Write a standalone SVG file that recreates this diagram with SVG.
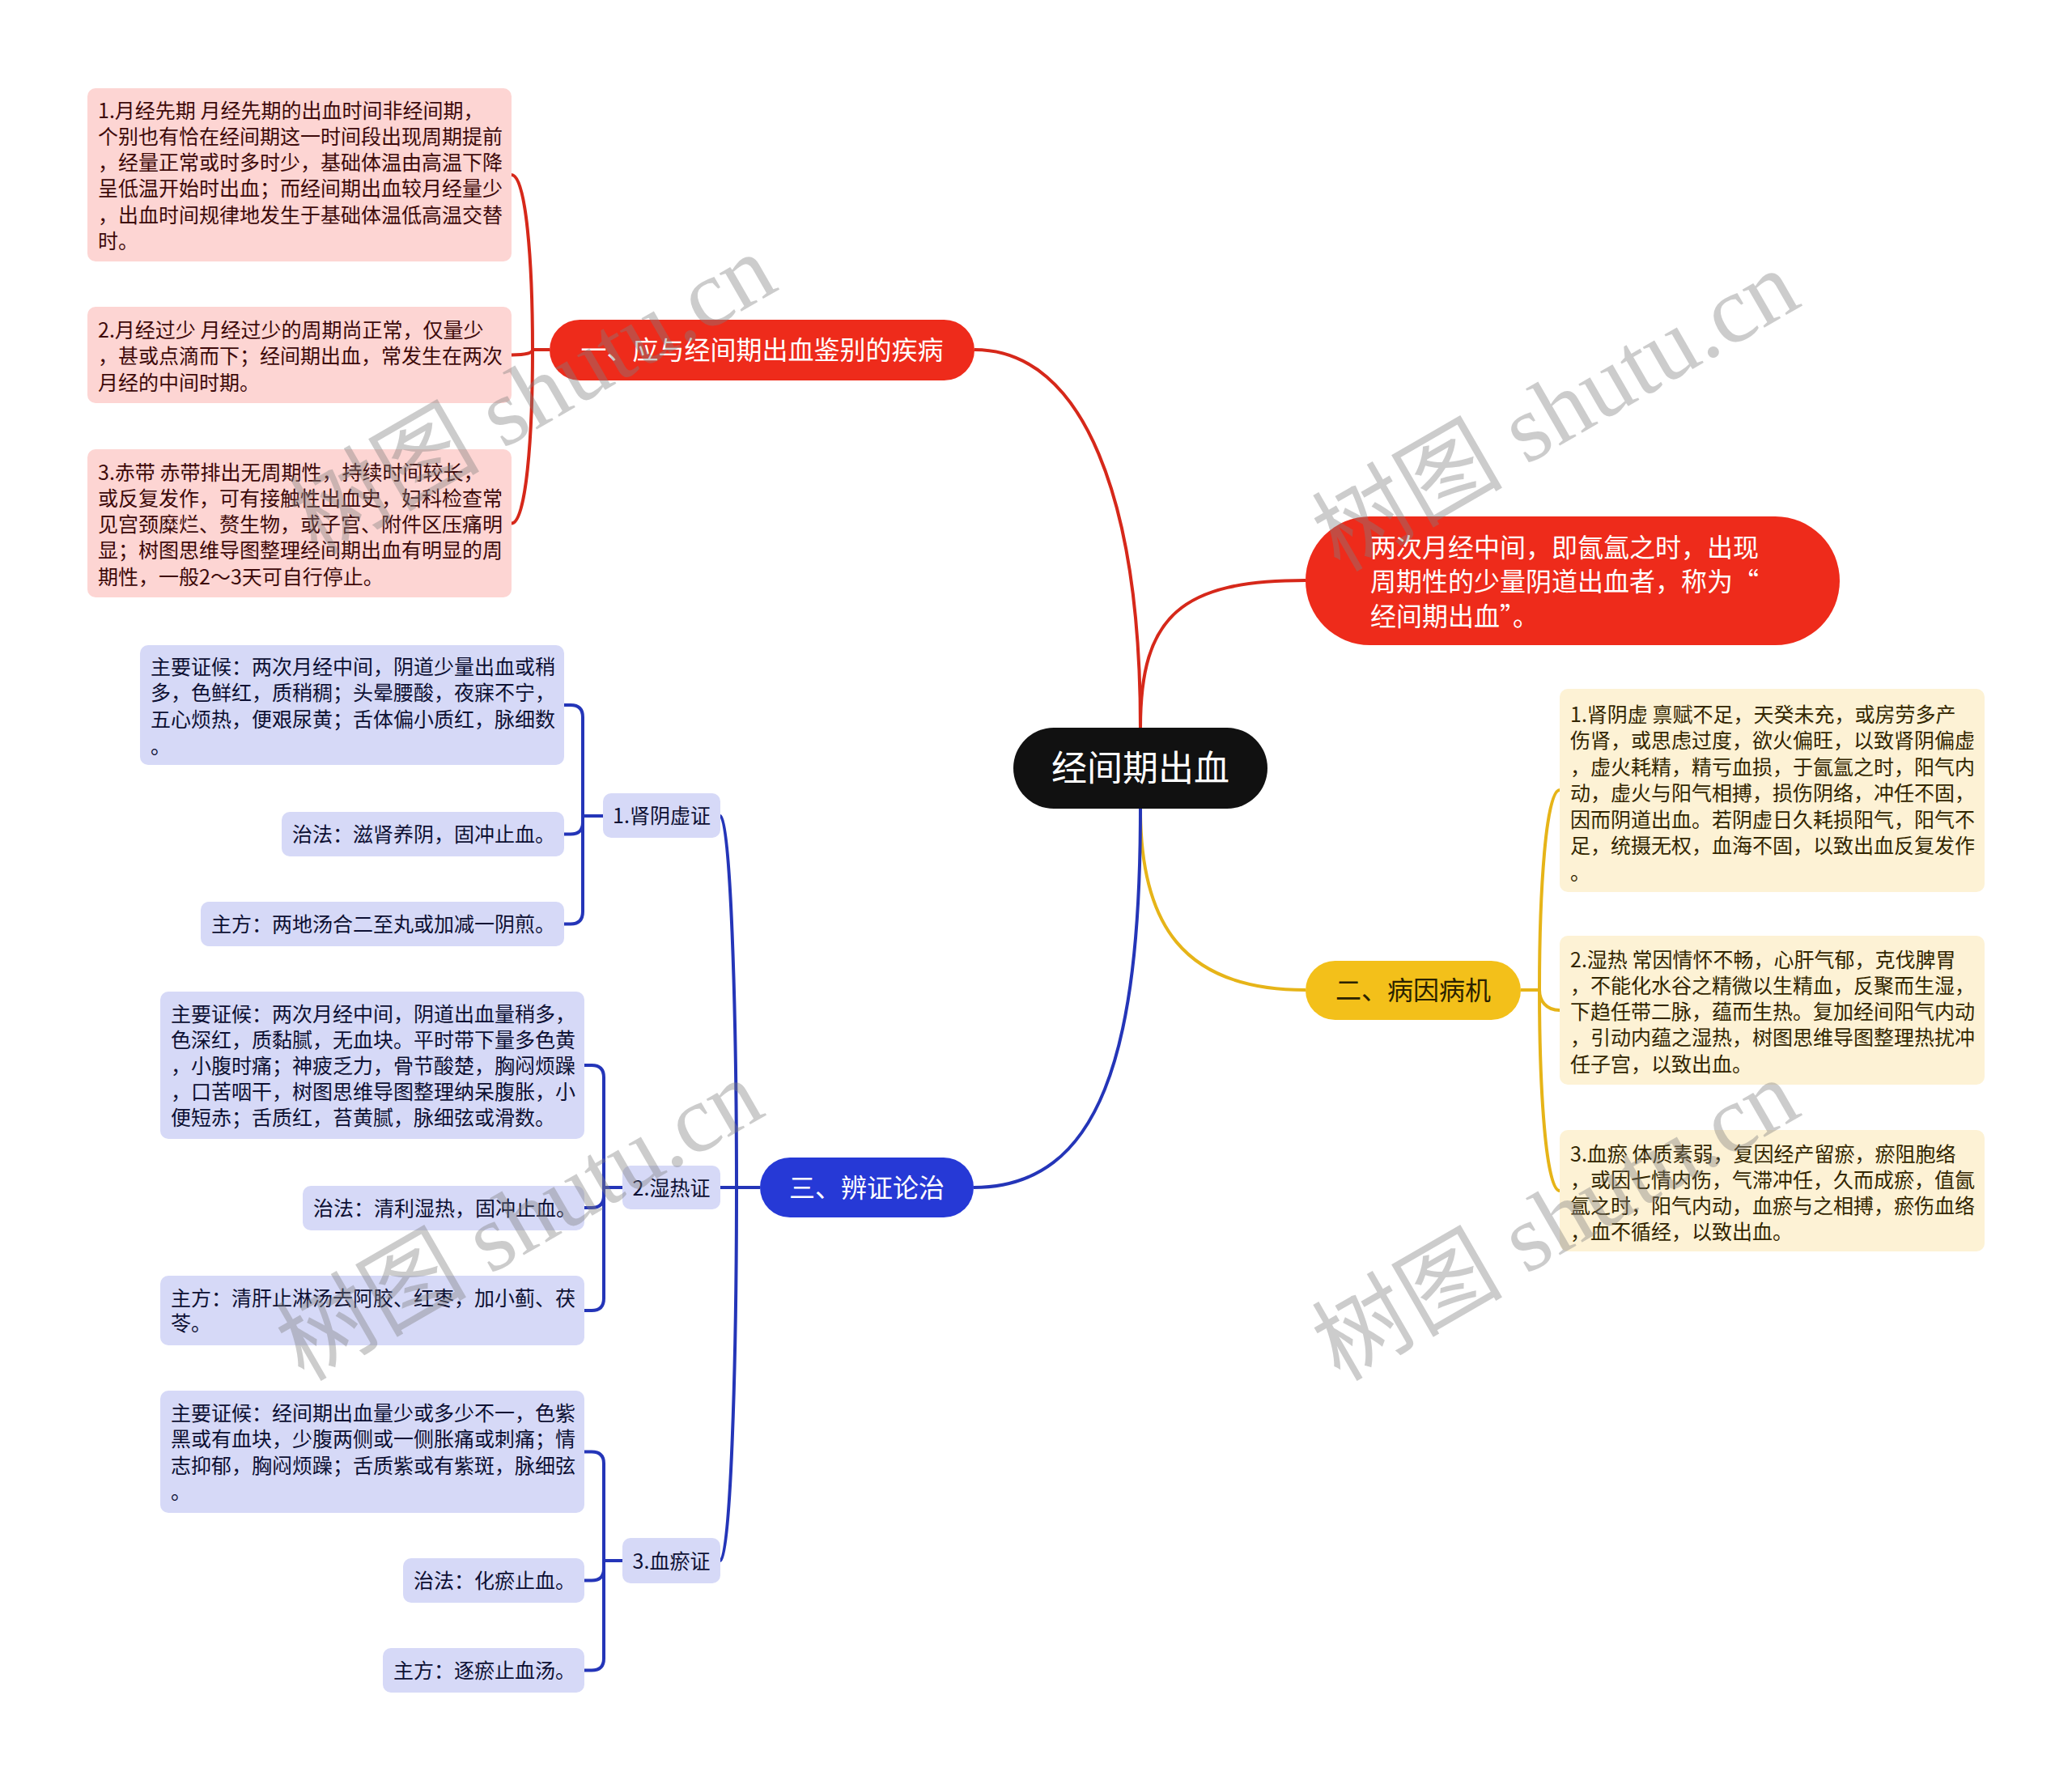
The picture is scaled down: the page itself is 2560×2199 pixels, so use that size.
<svg xmlns="http://www.w3.org/2000/svg" width="2560" height="2199" viewBox="0 0 2560 2199">
<style>
text{font-family:"Noto Sans CJK SC","Liberation Sans",sans-serif}
.s{font-size:25px}
.m{font-size:32px}
.pink rect{fill:#fdd5d3}
.pink text{fill:#3d0a0a}
.yel rect{fill:#fdf2d5}
.yel text{fill:#332600}
.blu rect{fill:#d6d9f7}
.blu text{fill:#0d1033}
.cr{fill:none;stroke:#d6281a;stroke-width:4}
.cy{fill:none;stroke:#e6b418;stroke-width:4}
.cb{fill:none;stroke:#2435b8;stroke-width:4}
.wm{font-family:"Liberation Serif","Noto Sans CJK SC",serif;font-size:118px;fill:#7f7f7f;fill-opacity:0.4}
</style>
<rect width="2560" height="2199" fill="#ffffff"/>
<g id="connectors">
<path class="cr" d="M1409 899 C1409 620 1340 432 1204 432"/>
<path class="cr" d="M1409 899 C1409 760 1460 717 1613 717"/>
<path class="cy" d="M1409 999 C1409 1140 1460 1223 1613 1223"/>
<path class="cb" d="M1409 999 C1409 1300 1360 1467 1203 1467"/>
<path class="cr" d="M679 432 H658 C658 324 650 216 632 216"/>
<path class="cr" d="M679 432 H658 C658 436 650 438.5 632 438.5"/>
<path class="cr" d="M679 432 H658 C658 540 650 646.5 632 646.5"/>
<path class="cy" d="M1879 1223 H1902 C1902 1100 1910 976 1927 976"/>
<path class="cy" d="M1879 1223 H1902 C1902 1236 1910 1248 1927 1248"/>
<path class="cy" d="M1879 1223 H1902 C1902 1347 1910 1471 1927 1471"/>
<path class="cb" d="M939 1467 H910 C910 1237 902 1008 890 1008"/>
<path class="cb" d="M939 1467 H890"/>
<path class="cb" d="M939 1467 H910 C910 1697 902 1928 890 1928"/>
<path class="cb" d="M745 1008 H720 V886 Q720 871 705 871 H697"/>
<path class="cb" d="M745 1008 H720 V1016 Q720 1030.5 705 1030.5 H697"/>
<path class="cb" d="M745 1008 H720 V1126 Q720 1141.5 705 1141.5 H697"/>
<path class="cb" d="M769 1467 H746 V1331 Q746 1316 731 1316 H722"/>
<path class="cb" d="M769 1467 H746 V1477 Q746 1492 731 1492 H722"/>
<path class="cb" d="M769 1467 H746 V1604 Q746 1619 731 1619 H722"/>
<path class="cb" d="M769 1928 H746 V1808 Q746 1793.5 731 1793.5 H722"/>
<path class="cb" d="M769 1928 H746 V1938 Q746 1952.5 731 1952.5 H722"/>
<path class="cb" d="M769 1928 H746 V2049 Q746 2063.5 731 2063.5 H722"/>
</g>
<g id="root">
<rect x="1252" y="899" width="314" height="100" rx="50" fill="#111111"/>
<text x="1409" y="965" font-size="44" fill="#ffffff" text-anchor="middle">经间期出血</text>
</g>
<g id="n1">
<rect x="679" y="395" width="525" height="75" rx="37.5" fill="#ee2b1b"/>
<text class="m" x="941.5" y="444" fill="#ffffff" text-anchor="middle">一、应与经间期出血鉴别的疾病</text>
</g>
<g id="def">
<rect x="1613" y="638" width="660" height="159" rx="79.5" fill="#ee2b1b"/>
<text class="m" fill="#ffffff"><tspan x="1693" y="688">两次月经中间，即氤氲之时，出现</tspan><tspan x="1693" y="730">周期性的少量阴道出血者，称为“</tspan><tspan x="1693" y="773">经间期出血”。</tspan></text>
</g>
<g id="n2">
<rect x="1613" y="1187" width="266" height="73" rx="36.5" fill="#f3c01a"/>
<text class="m" x="1746" y="1235" fill="#2b2200" text-anchor="middle">二、病因病机</text>
</g>
<g id="n3">
<rect x="939" y="1430" width="264" height="74" rx="37" fill="#2639d6"/>
<text class="m" x="1071" y="1479" fill="#ffffff" text-anchor="middle">三、辨证论治</text>
</g>
<g id="p1" class="pink">
<rect x="108" y="109" width="524" height="214" rx="10"/>
<text class="s"><tspan x="121" y="145.5">1.月经先期 月经先期的出血时间非经间期，</tspan><tspan x="121" dy="32.3">个别也有恰在经间期这一时间段出现周期提前</tspan><tspan x="121" dy="32.3">，经量正常或时多时少，基础体温由高温下降</tspan><tspan x="121" dy="32.3">呈低温开始时出血；而经间期出血较月经量少</tspan><tspan x="121" dy="32.3">，出血时间规律地发生于基础体温低高温交替</tspan><tspan x="121" dy="32.3">时。</tspan></text>
</g>
<g id="p2" class="pink">
<rect x="108" y="379" width="524" height="119" rx="10"/>
<text class="s"><tspan x="121" y="416.5">2.月经过少 月经过少的周期尚正常，仅量少</tspan><tspan x="121" dy="32.5">，甚或点滴而下；经间期出血，常发生在两次</tspan><tspan x="121" dy="32.5">月经的中间时期。</tspan></text>
</g>
<g id="p3" class="pink">
<rect x="108" y="555" width="524" height="183" rx="10"/>
<text class="s"><tspan x="121" y="592.5">3.赤带 赤带排出无周期性，持续时间较长，</tspan><tspan x="121" dy="32.25">或反复发作，可有接触性出血史，妇科检查常</tspan><tspan x="121" dy="32.25">见宫颈糜烂、赘生物，或子宫、附件区压痛明</tspan><tspan x="121" dy="32.25">显；树图思维导图整理经间期出血有明显的周</tspan><tspan x="121" dy="32.25">期性，一般2～3天可自行停止。</tspan></text>
</g>
<g id="y1" class="yel">
<rect x="1927" y="851" width="525" height="251" rx="10"/>
<text class="s"><tspan x="1940" y="891.5">1.肾阴虚 禀赋不足，天癸未充，或房劳多产</tspan><tspan x="1940" dy="32.5">伤肾，或思虑过度，欲火偏旺，以致肾阴偏虚</tspan><tspan x="1940" dy="32.5">，虚火耗精，精亏血损，于氤氲之时，阳气内</tspan><tspan x="1940" dy="32.5">动，虚火与阳气相搏，损伤阴络，冲任不固，</tspan><tspan x="1940" dy="32.5">因而阴道出血。若阴虚日久耗损阳气，阳气不</tspan><tspan x="1940" dy="32.5">足，统摄无权，血海不固，以致出血反复发作</tspan><tspan x="1940" dy="32.5">。</tspan></text>
</g>
<g id="y2" class="yel">
<rect x="1927" y="1156" width="525" height="184" rx="10"/>
<text class="s"><tspan x="1940" y="1194.5">2.湿热 常因情怀不畅，心肝气郁，克伐脾胃</tspan><tspan x="1940" dy="32.3">，不能化水谷之精微以生精血，反聚而生湿，</tspan><tspan x="1940" dy="32.3">下趋任带二脉，蕴而生热。复加经间阳气内动</tspan><tspan x="1940" dy="32.3">，引动内蕴之湿热，树图思维导图整理热扰冲</tspan><tspan x="1940" dy="32.3">任子宫，以致出血。</tspan></text>
</g>
<g id="y3" class="yel">
<rect x="1927" y="1396" width="525" height="150" rx="10"/>
<text class="s"><tspan x="1940" y="1434.5">3.血瘀 体质素弱，复因经产留瘀，瘀阻胞络</tspan><tspan x="1940" dy="32.3">，或因七情内伤，气滞冲任，久而成瘀，值氤</tspan><tspan x="1940" dy="32.3">氲之时，阳气内动，血瘀与之相搏，瘀伤血络</tspan><tspan x="1940" dy="32.3">，血不循经，以致出血。</tspan></text>
</g>
<g id="b1" class="blu">
<rect x="745" y="980" width="145" height="55" rx="10"/>
<text class="s" x="817.5" y="1017" text-anchor="middle">1.肾阴虚证</text>
</g>
<g id="b1a" class="blu">
<rect x="173" y="797" width="524" height="148" rx="10"/>
<text class="s"><tspan x="186" y="832.5">主要证候：两次月经中间，阴道少量出血或稍</tspan><tspan x="186" dy="32.7">多，色鲜红，质稍稠；头晕腰酸，夜寐不宁，</tspan><tspan x="186" dy="32.7">五心烦热，便艰尿黄；舌体偏小质红，脉细数</tspan><tspan x="186" dy="32.7">。</tspan></text>
</g>
<g id="b1b" class="blu">
<rect x="348" y="1003" width="349" height="55" rx="10"/>
<text class="s" x="361" y="1039.5">治法：滋肾养阴，固冲止血。</text>
</g>
<g id="b1c" class="blu">
<rect x="248" y="1114" width="449" height="55" rx="10"/>
<text class="s" x="261" y="1150.5">主方：两地汤合二至丸或加减一阴煎。</text>
</g>
<g id="b2" class="blu">
<rect x="769" y="1440" width="121" height="54" rx="10"/>
<text class="s" x="829.5" y="1476.5" text-anchor="middle">2.湿热证</text>
</g>
<g id="b2a" class="blu">
<rect x="198" y="1225" width="524" height="182" rx="10"/>
<text class="s"><tspan x="211" y="1261.5">主要证候：两次月经中间，阴道出血量稍多，</tspan><tspan x="211" dy="32">色深红，质黏腻，无血块。平时带下量多色黄</tspan><tspan x="211" dy="32">，小腹时痛；神疲乏力，骨节酸楚，胸闷烦躁</tspan><tspan x="211" dy="32">，口苦咽干，树图思维导图整理纳呆腹胀，小</tspan><tspan x="211" dy="32">便短赤；舌质红，苔黄腻，脉细弦或滑数。</tspan></text>
</g>
<g id="b2b" class="blu">
<rect x="374" y="1465" width="348" height="55" rx="10"/>
<text class="s" x="387" y="1501.5">治法：清利湿热，固冲止血。</text>
</g>
<g id="b2c" class="blu">
<rect x="198" y="1576" width="524" height="86" rx="10"/>
<text class="s"><tspan x="211" y="1612.5">主方：清肝止淋汤去阿胶、红枣，加小蓟、茯</tspan><tspan x="211" dy="31">苓。</tspan></text>
</g>
<g id="b3" class="blu">
<rect x="769" y="1900" width="121" height="56" rx="10"/>
<text class="s" x="829.5" y="1937.5" text-anchor="middle">3.血瘀证</text>
</g>
<g id="b3a" class="blu">
<rect x="198" y="1718" width="524" height="151" rx="10"/>
<text class="s"><tspan x="211" y="1754.5">主要证候：经间期出血量少或多少不一，色紫</tspan><tspan x="211" dy="32.5">黑或有血块，少腹两侧或一侧胀痛或刺痛；情</tspan><tspan x="211" dy="32.5">志抑郁，胸闷烦躁；舌质紫或有紫斑，脉细弦</tspan><tspan x="211" dy="32.5">。</tspan></text>
</g>
<g id="b3b" class="blu">
<rect x="498" y="1925" width="224" height="55" rx="10"/>
<text class="s" x="511" y="1962">治法：化瘀止血。</text>
</g>
<g id="b3c" class="blu">
<rect x="473" y="2036" width="249" height="55" rx="10"/>
<text class="s" x="486" y="2073">主方：逐瘀止血汤。</text>
</g>
<g id="watermarks">
<text class="wm" text-anchor="middle" transform="translate(678 522) rotate(-30)">树图 shutu.cn</text>
<text class="wm" text-anchor="middle" transform="translate(1942 542) rotate(-30)">树图 shutu.cn</text>
<text class="wm" text-anchor="middle" transform="translate(662 1542) rotate(-30)">树图 shutu.cn</text>
<text class="wm" text-anchor="middle" transform="translate(1942 1542) rotate(-30)">树图 shutu.cn</text>
</g>
</svg>
